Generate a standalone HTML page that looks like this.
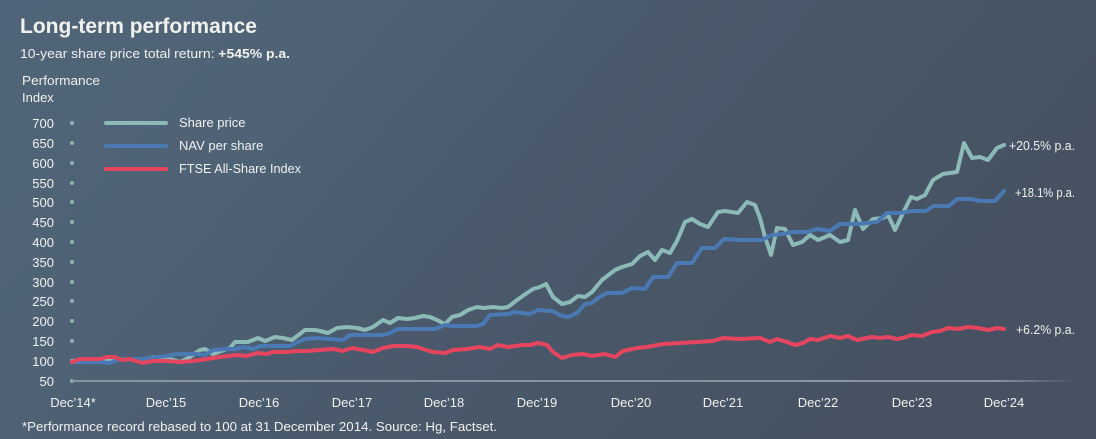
<!DOCTYPE html>
<html><head><meta charset="utf-8"><style>
html,body{margin:0;padding:0;width:1096px;height:439px;overflow:hidden;background:#4b5b6e}
svg{display:block}
text{font-family:"Liberation Sans",Arial,sans-serif;fill:#f1f1ee}
</style></head><body>
<svg width="1096" height="439" viewBox="0 0 1096 439" xmlns="http://www.w3.org/2000/svg">
<defs>
<linearGradient id="bg" x1="0" y1="0" x2="1" y2="0.35">
<stop offset="0" stop-color="#506579"/>
<stop offset="0.3" stop-color="#4f6276"/>
<stop offset="0.55" stop-color="#4a5a6c"/>
<stop offset="1" stop-color="#465262"/>
</linearGradient>
<linearGradient id="ax" x1="0" y1="0" x2="1" y2="0">
<stop offset="0" stop-color="#87939f"/>
<stop offset="0.92" stop-color="#87939f"/>
<stop offset="1" stop-color="#87939f" stop-opacity="0"/>
</linearGradient>
</defs>
<rect width="1096" height="439" fill="url(#bg)"/>

<text x="20" y="33" font-size="21" font-weight="bold" textLength="237" lengthAdjust="spacingAndGlyphs">Long-term performance</text>
<text x="20" y="58" font-size="13" textLength="270" lengthAdjust="spacingAndGlyphs">10-year share price total return: <tspan font-weight="bold">+545% p.a.</tspan></text>
<text x="22" y="85" font-size="13" textLength="78" lengthAdjust="spacingAndGlyphs">Performance</text>
<text x="22" y="102" font-size="13">Index</text>

<g font-size="13" text-anchor="end">
<text x="54" y="128">700</text>
<text x="54" y="148">650</text>
<text x="54" y="168">600</text>
<text x="54" y="188">550</text>
<text x="54" y="207">500</text>
<text x="54" y="227">450</text>
<text x="54" y="247">400</text>
<text x="54" y="267">350</text>
<text x="54" y="287">300</text>
<text x="54" y="306">250</text>
<text x="54" y="326">200</text>
<text x="54" y="346">150</text>
<text x="54" y="366">100</text>
<text x="54" y="386">50</text>
</g>
<g fill="#8fb2b1">
<circle cx="72" cy="123" r="2"/><circle cx="72" cy="143" r="2"/><circle cx="72" cy="163" r="2"/><circle cx="72" cy="183" r="2"/>
<circle cx="72" cy="202" r="2"/><circle cx="72" cy="222" r="2"/><circle cx="72" cy="242" r="2"/><circle cx="72" cy="262" r="2"/>
<circle cx="72" cy="282" r="2"/><circle cx="72" cy="301" r="2"/><circle cx="72" cy="321" r="2"/><circle cx="72" cy="341" r="2"/>
<circle cx="72" cy="361" r="2"/><circle cx="72" cy="381" r="2"/>
</g>
<rect x="72" y="380" width="1003" height="2" fill="url(#ax)"/>

<g font-size="13" text-anchor="middle">
<text x="73" y="407">Dec’14*</text>
<text x="166" y="407">Dec’15</text>
<text x="259" y="407">Dec’16</text>
<text x="352" y="407">Dec’17</text>
<text x="444" y="407">Dec’18</text>
<text x="537" y="407">Dec’19</text>
<text x="631" y="407">Dec’20</text>
<text x="723" y="407">Dec’21</text>
<text x="818" y="407">Dec’22</text>
<text x="912" y="407">Dec’23</text>
<text x="1004" y="407">Dec’24</text>
</g>
<text x="22" y="431" font-size="13" textLength="475" lengthAdjust="spacingAndGlyphs">*Performance record rebased to 100 at 31 December 2014. Source: Hg, Factset.</text>

<!-- legend -->
<g stroke-width="4" stroke-linecap="round">
<line x1="106" y1="123" x2="166" y2="123" stroke="#8cbab6"/>
<line x1="106" y1="146" x2="166" y2="146" stroke="#4a79b3"/>
<line x1="106" y1="169" x2="166" y2="169" stroke="#e6455f"/>
</g>
<g font-size="13">
<text x="179" y="127">Share price</text>
<text x="179" y="150">NAV per share</text>
<text x="179" y="173" textLength="122" lengthAdjust="spacingAndGlyphs">FTSE All-Share Index</text>
</g>

<g fill="none" stroke-width="4" stroke-linejoin="round" stroke-linecap="round">
<polyline stroke="#8cbab6" points="72,361 80,360 88,359 100,360 110,361 120,359 130,359 142,361 153,357 167,358 180,362 190,357 200,350 205,349 213,354 230,348 235,342 248,342 258,338 265,341 275,337 283,338 292,340 305,330 315,330 320,331 328,333 337,328 347,327 357,328 365,330 373,327 383,320 390,323 398,318 407,319 415,318 423,316 430,317 437,320 445,324 452,317 460,315 468,310 477,307 483,308 493,307 502,308 508,307 517,300 527,293 533,289 540,287 546,284 553,297 562,304 570,302 578,296 585,297 592,292 602,280 615,270 622,267 632,264 640,256 648,252 655,260 662,250 670,253 677,241 685,222 692,219 700,224 708,227 718,212 725,211 738,213 747,202 755,205 760,218 765,237 771,255 777,228 785,229 793,245 802,242 810,235 818,240 830,235 840,242 848,240 855,210 863,229 873,219 883,218 888,215 895,230 903,213 911,197 917,199 925,195 933,180 943,174 957,172 964,143 972,158 980,157 988,160 997,148 1004,145"/>
<polyline stroke="#4a79b3" points="72,362 100,362 110,363 120,359 140,359 157,357 167,356 177,354 197,354 205,355 213,350 227,349 235,349 243,347 253,349 260,346 290,346 298,342 305,339 318,338 330,339 343,340 350,335 383,335 390,333 398,329 435,329 445,325 453,326 477,326 483,324 490,315 508,314 515,312 530,314 538,310 552,311 562,316 568,317 577,313 585,304 592,303 598,298 607,293 622,293 632,288 645,289 653,277 668,277 677,263 692,263 702,248 715,248 724,239 740,240 762,240 772,235 783,234 793,232 808,232 817,229 830,231 840,224 857,224 877,222 887,213 900,213 912,211 926,211 933,206 949,206 957,199 971,199 980,201 995,201 1004,191"/>
<polyline stroke="#e6455f" points="72,362 80,359 88,359 100,359 107,357 115,357 122,360 130,359 142,363 153,361 167,361 180,362 193,361 207,359 220,357 237,355 247,356 257,353 267,354 273,352 287,352 297,351 307,351 320,350 333,349 343,351 352,348 363,350 373,352 383,348 393,346 407,346 417,347 423,349 433,352 445,353 453,350 467,349 480,347 490,349 498,345 508,347 523,345 530,345 538,343 547,345 553,352 562,358 572,355 583,354 592,356 605,354 615,357 623,351 637,348 647,347 663,344 680,343 697,342 713,341 723,338 740,339 760,338 770,342 777,339 787,342 795,345 803,343 810,339 818,340 830,336 840,338 848,336 857,340 872,337 880,338 888,337 897,339 903,338 912,335 922,336 932,332 940,331 948,328 958,329 968,327 978,328 988,330 997,328 1004,329"/>
</g>

<g font-size="13">
<text x="1009" y="150" textLength="66" lengthAdjust="spacingAndGlyphs">+20.5% p.a.</text>
<text x="1015" y="197" textLength="60" lengthAdjust="spacingAndGlyphs">+18.1% p.a.</text>
<text x="1016" y="334" textLength="59" lengthAdjust="spacingAndGlyphs">+6.2% p.a.</text>
</g>
</svg>
</body></html>
